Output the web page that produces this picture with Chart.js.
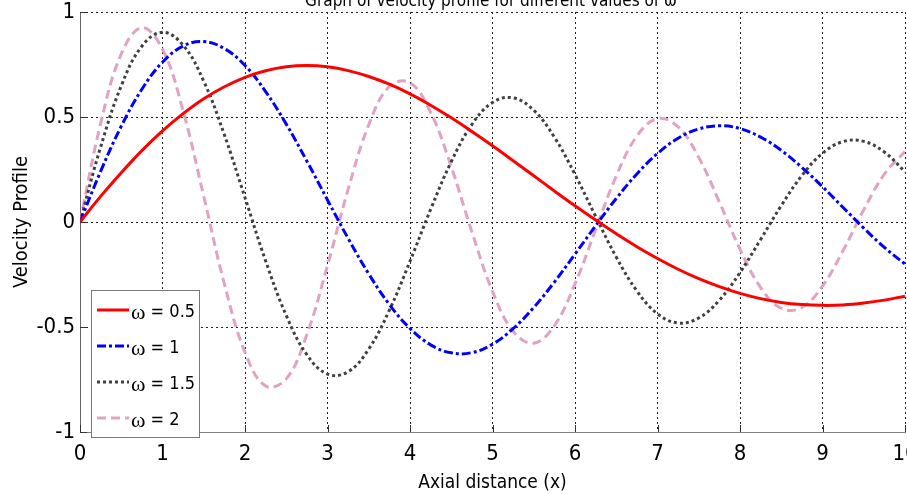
<!DOCTYPE html>
<html>
<head>
    <title>Velocity profile</title>
    <script src="https://cdn.jsdelivr.net/npm/chart.js"></script>
    <style>
        body { margin: 0; background: #fff; }
    </style>
</head>
<body>
    <canvas id="velocityChart" width="907" height="494"></canvas>

    <script>
        // axial distance samples (x) and the velocity
        const axialDistance = [0, 0.25, 0.5, 0.75, 1, 1.25, 1.5, 1.75, 2, 2.25, 2.5, 2.75, 3, 3.25, 3.5, 3.75, 4, 4.25, 4.5, 4.75,
            5, 5.25, 5.5, 5.75, 6, 6.25, 6.5, 6.75, 7, 7.25, 7.5, 7.75, 8, 8.25, 8.5, 8.75, 9, 9.25, 9.5, 9.75, 10];
        const omegaValues = ['0.5', '1', '1.5', '2'];
        const velocityW05 = [0, 0.122, 0.235, 0.340, 0.434, 0.516, 0.587, 0.644, 0.689, 0.720, 0.739, 0.745, 0.739, 0.721, 0.693, 0.656, 0.610, 0.556, 0.496, 0.431,
            0.363, 0.292, 0.220, 0.148, 0.077, 0.009, -0.056, -0.118, -0.174, -0.225, -0.270, -0.308, -0.340, -0.365, -0.383, -0.393, -0.397, -0.395, -0.386, -0.372, -0.353];
        const velocityW1 = [0, 0.241, 0.456, 0.632, 0.761, 0.838, 0.859, 0.826, 0.745, 0.621, 0.466, 0.290, 0.105, -0.078, -0.247, -0.393, -0.507, -0.585, -0.623, -0.622,
            -0.582, -0.508, -0.407, -0.286, -0.153, -0.018, 0.112, 0.229, 0.326, 0.399, 0.443, 0.458, 0.445, 0.404, 0.341, 0.260, 0.168, 0.069, -0.029, -0.121, -0.200];
        const velocityW15 = [0, 0.357, 0.648, 0.837, 0.903, 0.842, 0.670, 0.415, 0.116, -0.185, -0.445, -0.632, -0.724, -0.713, -0.605, -0.420, -0.187, 0.060, 0.287, 0.464,
            0.569, 0.591, 0.532, 0.404, 0.226, 0.027, -0.167, -0.328, -0.437, -0.481, -0.457, -0.372, -0.241, -0.083, 0.078, 0.221, 0.327, 0.383, 0.384, 0.333, 0.239];
        const velocityW2 = [0, 0.468, 0.800, 0.925, 0.823, 0.528, 0.122, -0.295, -0.620, -0.781, -0.747, -0.536, -0.207, 0.155, 0.463, 0.645, 0.663, 0.522, 0.263, -0.047,
            -0.330, -0.520, -0.577, -0.493, -0.295, -0.036, 0.219, 0.409, 0.492, 0.453, 0.307, 0.095, -0.129, -0.312, -0.411, -0.407, -0.305, -0.136, 0.058, 0.228, 0.336];

        const NARROW = '"Liberation Sans Narrow", "Arial Narrow", "DejaVu Sans Condensed", sans-serif';

        const toPoints = values => values.map((v, i) => ({ x: axialDistance[i], y: v }));

        const seriesStyles = [
            { color: '#ff0000', dash: [] },
            { color: '#0000ff', dash: [9, 3, 3, 3] },
            { color: '#404040', dash: [3, 3] },
            { color: '#e0a3c4', dash: [9, 5] }
        ];
        const seriesValues = [velocityW05, velocityW1, velocityW15, velocityW2];

        const datasets = seriesValues.map((vals, i) => ({
            label: 'ω = ' + omegaValues[i],
            data: toPoints(vals),
            borderColor: seriesStyles[i].color,
            borderDash: seriesStyles[i].dash,
            borderWidth: 3,
            borderCapStyle: 'butt',
            pointRadius: 0,
            tension: 0.4,
            fill: false
        }));

        // title (cut at the top), inward tick marks and the boxed legend
        const extras = {
            id: 'extras',
            afterDraw(chart) {
                const ctx = chart.ctx;
                const area = chart.chartArea;
                const xs = chart.scales.x, ys = chart.scales.y;
                ctx.save();

                ctx.fillStyle = '#000';
                ctx.font = '17px ' + NARROW;
                ctx.textAlign = 'center';
                ctx.textBaseline = 'alphabetic';
                ctx.fillText('Graph of velocity profile for different values of ω', 491, 6);

                ctx.strokeStyle = '#333';
                ctx.lineWidth = 1;
                ctx.setLineDash([]);
                ctx.beginPath();
                xs.ticks.forEach(t => {
                    const px = Math.round(xs.getPixelForValue(t.value)) + 0.5;
                    ctx.moveTo(px, area.bottom);
                    ctx.lineTo(px, area.bottom - 7);
                });
                ys.ticks.forEach(t => {
                    const py = Math.round(ys.getPixelForValue(t.value)) + 0.5;
                    ctx.moveTo(area.left, py);
                    ctx.lineTo(area.left + 7, py);
                });
                ctx.stroke();

                // legend box
                const bx = 91.5, by = 290.5, bw = 108, bh = 147;
                ctx.fillStyle = '#fff';
                ctx.fillRect(bx, by, bw, bh);
                ctx.strokeStyle = '#777';
                ctx.strokeRect(bx, by, bw, bh);
                chart.data.datasets.forEach((ds, i) => {
                    const y = 310 + i * 36;
                    ctx.strokeStyle = ds.borderColor;
                    ctx.lineWidth = 3;
                    ctx.setLineDash(ds.borderDash);
                    ctx.beginPath();
                    ctx.moveTo(97, y);
                    ctx.lineTo(129, y);
                    ctx.stroke();
                    ctx.setLineDash([]);
                    ctx.fillStyle = '#000';
                    ctx.textAlign = 'left';
                    ctx.textBaseline = 'middle';
                    ctx.font = '22px "Liberation Serif", serif';
                    ctx.fillText('ω', 131, y + 3);
                    const w = ctx.measureText('ω').width;
                    ctx.font = '18px ' + NARROW;
                    ctx.fillText(' = ' + omegaValues[i], 131 + w, y + 2);
                });
                ctx.restore();
            }
        };

        const ctx = document.getElementById('velocityChart').getContext('2d');
        new Chart(ctx, {
            type: 'line',
            data: { datasets: datasets },
            plugins: [extras],
            options: {
                responsive: false,
                animation: false,
                devicePixelRatio: 1,
                layout: { padding: { top: 12, right: 2, left: 0, bottom: 0 } },
                plugins: {
                    legend: { display: false },
                    tooltip: { enabled: false }
                },
                scales: {
                    x: {
                        type: 'linear',
                        min: 0,
                        max: 10,
                        ticks: { stepSize: 1, padding: 9, color: '#000', font: { family: NARROW, size: 22 } },
                        grid: { color: '#222', lineWidth: 1, drawTicks: false },
                        border: { display: true, color: '#808080', width: 1, dash: [2, 3] },
                        title: { display: true, text: 'Axial distance (x)', color: '#000', font: { family: NARROW, size: 19 }, padding: { top: 4, bottom: 0 } },
                        afterFit: scale => { scale.height = 62; scale.paddingLeft = 0; scale.paddingRight = 0; }
                    },
                    y: {
                        min: -1,
                        max: 1,
                        ticks: { stepSize: 0.5, padding: 5, color: '#000', font: { family: NARROW, size: 22 },
                            callback: v => String(v) },
                        grid: { color: '#222', lineWidth: 1, drawTicks: false },
                        border: { display: true, color: '#666', width: 1, dash: [2, 3] },
                        title: { display: true, text: 'Velocity Profile', color: '#000', font: { family: NARROW, size: 20 }, padding: { top: 10, bottom: 0 } },
                        afterFit: scale => { scale.width = 80; scale.paddingTop = 0; scale.paddingBottom = 0; }
                    }
                }
            }
        });
    </script>
</body>
</html>
